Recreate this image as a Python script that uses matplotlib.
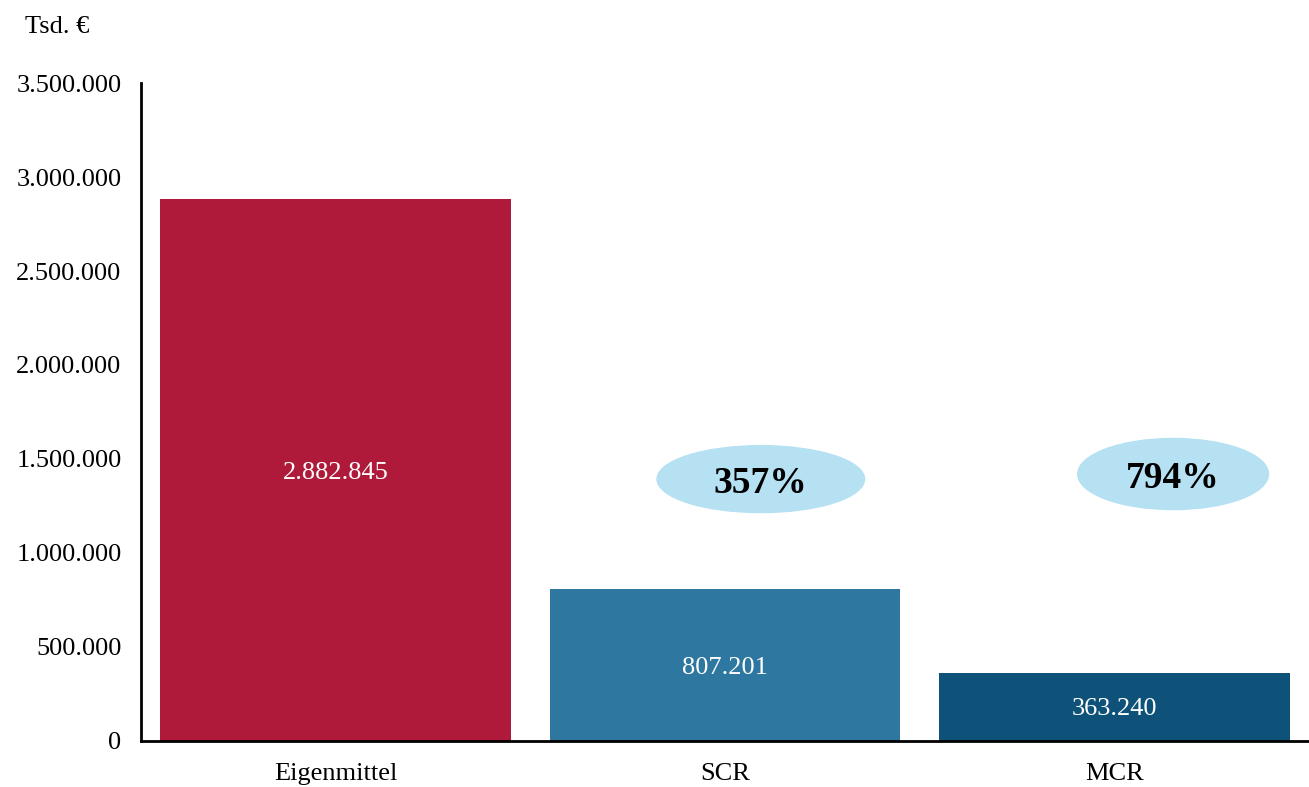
import matplotlib.pyplot as plt
from matplotlib.patches import Ellipse
from matplotlib.ticker import FuncFormatter

plt.rcParams['font.family'] = ['Liberation Serif', 'DejaVu Serif']

categories = ['Eigenmittel', 'SCR', 'MCR']
values = [2882845, 807201, 363240]
colors = ['#af1a3a', '#2e77a0', '#0e5279']
ratios = ['357%', '794%']


def de_format(v):
    return f'{v:,.0f}'.replace(',', '.')


fig = plt.figure(figsize=(13.09, 7.87), dpi=100)
ax = fig.add_axes([0.1077, 0.0585, 0.8923, 0.836])

x = range(len(categories))
bars = ax.bar(x, values, width=0.9, color=colors)
for b, v in zip(bars, values):
    ax.text(b.get_x() + b.get_width() / 2, v / 2, de_format(v),
            ha='center', va='center_baseline', color='white', fontsize=19)

# Bedeckungsquoten als Ellipsen
ax.add_patch(Ellipse((1.092, 1393000), 0.533, 356000, color='#b5e1f3', zorder=3))
ax.text(1.092, 1393000, ratios[0], ha='center', va='center_baseline',
        fontsize=27, fontweight='bold', zorder=4)
ax.add_patch(Ellipse((2.151, 1420000), 0.49, 378000, color='#b5e1f3', zorder=3))
ax.text(2.151, 1420000, ratios[1], ha='center', va='center_baseline',
        fontsize=27, fontweight='bold', zorder=4)

ax.set_xlim(-0.5, 2.5)
ax.set_ylim(0, 3500000)
ax.set_yticks(range(0, 3500001, 500000))
ax.yaxis.set_major_formatter(FuncFormatter(lambda v, p: de_format(v)))
ax.set_xticks(list(x))
ax.set_xticklabels(categories)
ax.tick_params(length=0, labelsize=19)
ax.tick_params(axis='x', pad=16)
ax.tick_params(axis='y', pad=14)

for s in ['top', 'right']:
    ax.spines[s].set_visible(False)
for s in ['left', 'bottom']:
    ax.spines[s].set_linewidth(2)
    ax.spines[s].set_color('black')

fig.text(0.019, 0.966, 'Tsd. €', fontsize=19, va='center')

fig.savefig('out.png', dpi=100)
